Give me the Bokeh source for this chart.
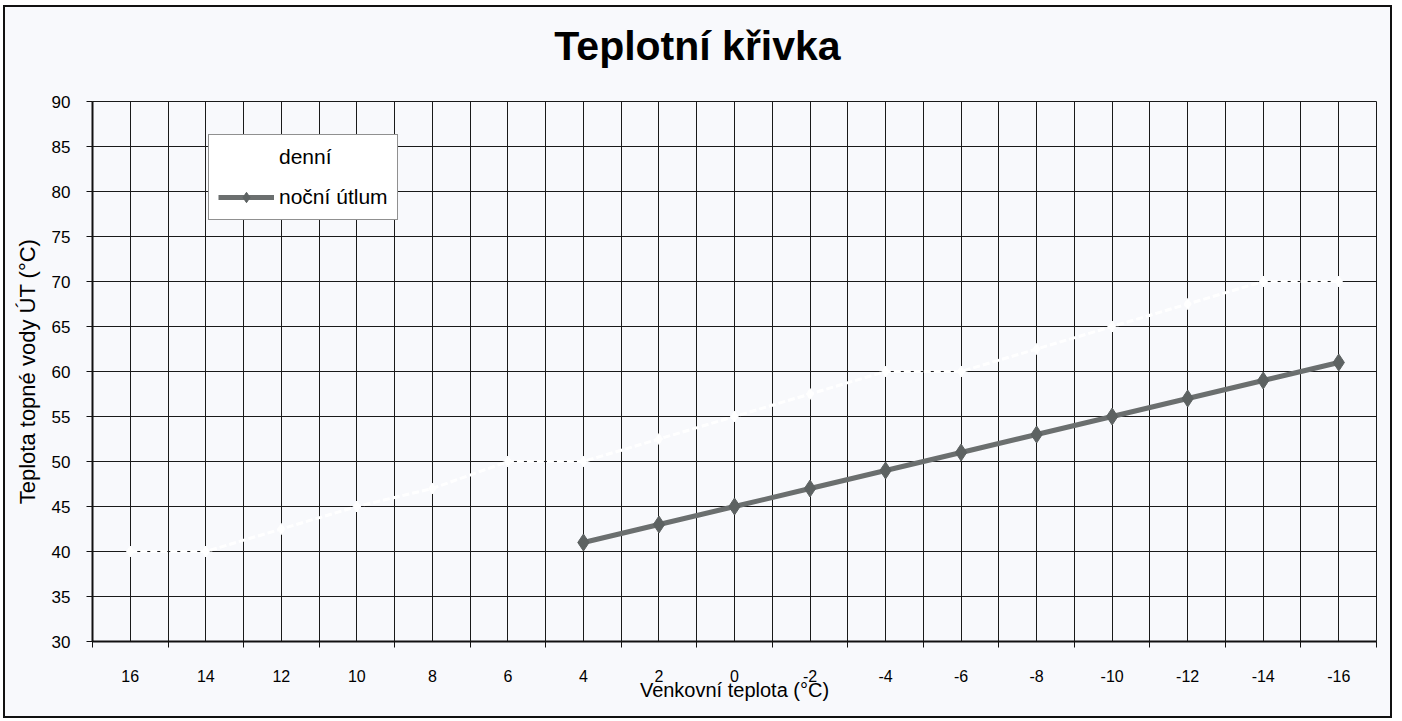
from bokeh.plotting import figure
from bokeh.models import Range1d, FixedTicker, Legend, LegendItem, Div
from bokeh.layouts import column
from bokeh.embed import file_html
from bokeh.resources import INLINE

# ---- data ----
categories = [16, 14, 12, 10, 8, 6, 4, 2, 0, -2, -4, -6, -8, -10, -12, -14, -16]
denni = [40, 40, 42.5, 45, 47, 50, 50, 52.5, 55, 57.5, 60, 60, 62.5, 65, 67.5, 70, 70]
nocni_x = [4, 2, 0, -2, -4, -6, -8, -10, -12, -14, -16]
nocni = [41, 43, 45, 47, 49, 51, 53, 55, 57, 59, 61]
y_ticks = [30, 35, 40, 45, 50, 55, 60, 65, 70, 75, 80, 85, 90]
x_tick_labels = [str(c) for c in categories]

title_text = "Teplotní křivka"
x_label = "Venkovní teplota (°C)"
y_label = "Teplota topné vody ÚT (°C)"

FONT = "Liberation Sans"
BG = "#f8f9fc"

# category boundaries (half a category step on each side)
half = (categories[0] - categories[1]) / 2
bounds = [c + half for c in categories] + [categories[-1] - half]
grid_x = sorted(set(categories + bounds), reverse=True)

title_div = Div(text=title_text, width=1385, height=78, margin=0,
                styles={"font-family": "'Liberation Sans'", "font-size": "41px",
                        "font-weight": "bold", "line-height": "78px", "text-align": "center",
                        "color": "#000000", "background-color": BG})

p = figure(width=1385, height=631, output_backend="svg", toolbar_location=None,
           x_range=Range1d(bounds[0], bounds[-1]), y_range=Range1d(y_ticks[0], y_ticks[-1]),
           min_border_left=87, min_border_right=14, min_border_top=16, min_border_bottom=75,
           background_fill_color=BG, border_fill_color=BG)

# x axis
xa = p.xaxis[0]
xa.ticker = FixedTicker(ticks=categories, minor_ticks=bounds)
xa.major_label_overrides = {c: l for c, l in zip(categories, x_tick_labels)}
xa.major_tick_line_color = None
xa.major_tick_out = 0
xa.minor_tick_line_color = "#111"
xa.minor_tick_out = 6
xa.minor_tick_in = 0
xa.axis_line_width = 2
xa.axis_line_color = "#111"
xa.major_label_text_font = FONT
xa.major_label_text_font_size = "16px"
xa.major_label_text_color = "#000"
xa.major_label_standoff = 22
xa.axis_label = x_label
xa.axis_label_text_font = FONT
xa.axis_label_text_font_size = "20px"
xa.axis_label_text_font_style = "normal"
xa.axis_label_standoff = -6
xa.axis_label_text_color = "#000"

# y axis
ya = p.yaxis[0]
ya.ticker = FixedTicker(ticks=y_ticks)
ya.major_tick_out = 6
ya.major_tick_in = 0
ya.minor_tick_line_color = None
ya.major_tick_line_color = "#111"
ya.axis_line_width = 2
ya.axis_line_color = "#111"
ya.major_label_text_font = FONT
ya.major_label_text_font_size = "17px"
ya.major_label_text_color = "#000"
ya.major_label_standoff = 16
ya.axis_label = y_label
ya.axis_label_text_font = FONT
ya.axis_label_text_font_size = "22px"
ya.axis_label_text_font_style = "normal"
ya.axis_label_standoff = 9
ya.axis_label_text_color = "#000"

# grids
p.xgrid.ticker = FixedTicker(ticks=grid_x)
p.xgrid.grid_line_color = "#1a1a1a"
p.xgrid.grid_line_width = 1
p.ygrid.ticker = FixedTicker(ticks=y_ticks)
p.ygrid.grid_line_color = "#1a1a1a"
p.ygrid.grid_line_width = 1
p.outline_line_color = "#1a1a1a"
p.outline_line_width = 1

# series
d_line = p.line(categories, denni, line_color="#ffffff", line_width=3, line_dash="7 3")
d_mark = p.scatter(categories, denni, marker="diamond", size=11, fill_color="#ffffff", line_color="#ffffff")

n_line = p.line(nocni_x, nocni, line_color="#6b6f6f", line_width=5)
n_mark = p.scatter(nocni_x, nocni, marker="diamond", size=17, fill_color="#5d6262", line_color="#5d6262")

legend = Legend(items=[LegendItem(label="denní", renderers=[d_line, d_mark]),
                       LegendItem(label="noční útlum", renderers=[n_line, n_mark])],
                location=(116, 421), orientation="vertical",
                label_text_font=FONT, label_text_font_size="21px", label_text_color="#000",
                glyph_width=56, glyph_height=26, spacing=14, padding=9, margin=0,
                label_standoff=5, border_line_color="#222", border_line_width=1,
                background_fill_color="#ffffff", background_fill_alpha=1.0)
p.add_layout(legend, "center")

layout = column(title_div, p, spacing=0,
                styles={"border": "2px solid #111", "margin": "5px 0px 0px 3px",
                        "background-color": BG})

open("out.html", "w").write(file_html(layout, INLINE))
